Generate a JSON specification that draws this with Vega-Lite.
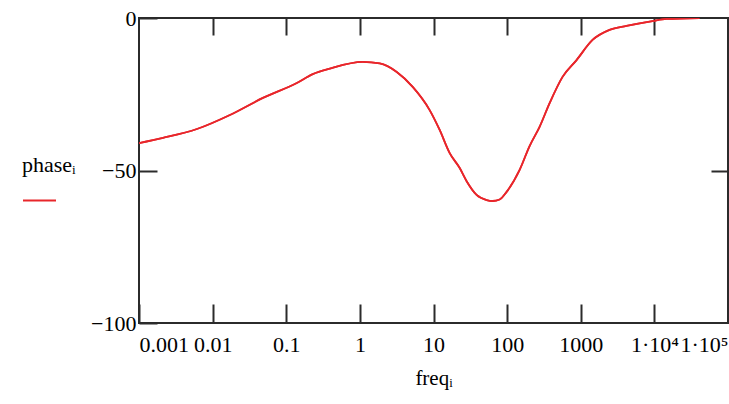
{
  "$schema": "https://vega.github.io/schema/vega-lite/v6.json",
  "width": 589,
  "height": 305,
  "autosize": "none",
  "padding": {"left": 139, "top": 18, "right": 1, "bottom": 81},
  "background": "white",
  "config": {
    "view": {"stroke": "#2b2b2b", "strokeWidth": 2},
    "font": "Liberation Serif"
  },
  "data": {
    "values": [
      {"freq": 0.001, "phase": -41},
      {"freq": 0.00212, "phase": -39.3},
      {"freq": 0.00612, "phase": -36.4},
      {"freq": 0.01718, "phase": -31.8},
      {"freq": 0.0482, "phase": -26.2},
      {"freq": 0.1393, "phase": -21.3},
      {"freq": 0.2296, "phase": -18.4},
      {"freq": 0.391, "phase": -16.6},
      {"freq": 1.094, "phase": -14.4},
      {"freq": 1.862, "phase": -14.9},
      {"freq": 3.17, "phase": -17.7},
      {"freq": 5.22, "phase": -22.6},
      {"freq": 8.87, "phase": -30.2},
      {"freq": 12.13, "phase": -36.7},
      {"freq": 16.6, "phase": -44.3},
      {"freq": 22.7, "phase": -49.2},
      {"freq": 28.2, "phase": -53.5},
      {"freq": 38.5, "phase": -58},
      {"freq": 52.7, "phase": -59.7},
      {"freq": 63.5, "phase": -60},
      {"freq": 79.1, "phase": -59.5},
      {"freq": 98.4, "phase": -57},
      {"freq": 147.9, "phase": -49.8},
      {"freq": 201.8, "phase": -42},
      {"freq": 276, "phase": -35.7},
      {"freq": 377.6, "phase": -27.9},
      {"freq": 566, "phase": -19.3},
      {"freq": 877, "phase": -13.8},
      {"freq": 1445, "phase": -7.2},
      {"freq": 2460, "phase": -3.9},
      {"freq": 4178, "phase": -2.6},
      {"freq": 9419, "phase": -1},
      {"freq": 14590, "phase": -0.3},
      {"freq": 40930, "phase": 0}
    ]
  },
  "layer": [
    {
      "mark": {"type": "line", "strokeWidth": 1.8, "interpolate": "monotone", "clip": true},
      "encoding": {
        "x": {
          "field": "freq", "type": "quantitative",
          "scale": {"type": "log", "domain": [0.001, 100000], "nice": false},
          "axis": {
            "orient": "bottom",
            "values": [0.001, 0.01, 0.1, 1, 10, 100, 1000, 10000, 100000],
            "labelExpr": "datum.value < 0.005 ? '0.001' : datum.value < 0.05 ? '0.01' : datum.value < 0.5 ? '0.1' : datum.value < 5 ? '1' : datum.value < 50 ? '10' : datum.value < 500 ? '100' : datum.value < 5000 ? '1000' : datum.value < 50000 ? '1·10⁴' : '1·10⁵'",
            "domain": false, "grid": false,
            "tickSize": -19, "tickColor": "#2b2b2b", "tickWidth": 2,
            "labelFontSize": 22, "labelColor": "black", "labelPadding": 30,
            "labelFlush": true, "labelOverlap": false, "labelBound": false,
            "title": "freqᵢ", "titleFontSize": 21, "titleFontWeight": "normal",
            "titleColor": "black", "titlePadding": 12
          }
        },
        "y": {
          "field": "phase", "type": "quantitative",
          "scale": {"domain": [-100, 0], "nice": false},
          "axis": {
            "orient": "left",
            "values": [0, -50, -100],
            "domain": false, "grid": false,
            "tickSize": -18, "tickColor": "#2b2b2b", "tickWidth": 2,
            "labelFontSize": 22, "labelColor": "black", "labelPadding": 21,
            "labelFlush": false, "labelBound": false, "labelOverlap": false,
            "title": null
          }
        },
        "color": {
          "datum": "phase",
          "scale": {"range": ["#e8262b"]},
          "legend": {
            "orient": "none", "legendX": -117, "legendY": 137,
            "title": "phaseᵢ", "titleFont": "Liberation Serif", "titleFontSize": 22,
            "titleFontWeight": "normal", "titleColor": "black", "titlePadding": 6,
            "symbolType": "stroke", "symbolSize": 1089, "symbolStrokeWidth": 2,
            "labelExpr": "''", "padding": 0
          }
        }
      }
    },
    {
      "mark": {"type": "line", "strokeWidth": 1.8, "interpolate": "monotone", "clip": true, "color": "#e8262b"},
      "encoding": {
        "x": {
          "field": "freq", "type": "quantitative",
          "scale": {"type": "log", "domain": [0.001, 100000], "nice": false},
          "axis": {
            "orient": "top",
            "values": [0.01, 0.1, 1, 10, 100, 1000, 10000],
            "domain": false, "grid": false, "labels": false,
            "tickSize": -17, "tickColor": "#2b2b2b", "tickWidth": 2,
            "title": null
          }
        },
        "y": {
          "field": "phase", "type": "quantitative",
          "scale": {"domain": [-100, 0], "nice": false},
          "axis": {
            "orient": "right",
            "values": [-50],
            "domain": false, "grid": false, "labels": false,
            "tickSize": -17, "tickColor": "#2b2b2b", "tickWidth": 2,
            "title": null
          }
        }
      }
    }
  ],
  "resolve": {"axis": {"x": "independent", "y": "independent"}}
}
